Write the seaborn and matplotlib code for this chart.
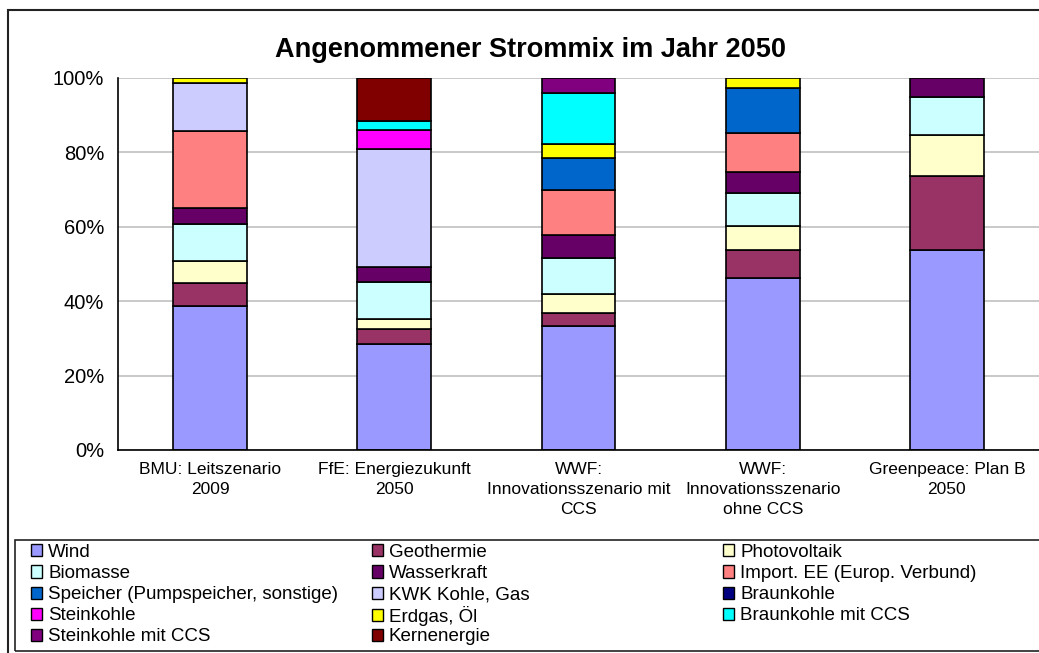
import numpy as np
import matplotlib
matplotlib.use("Agg")
import matplotlib.pyplot as plt
from matplotlib.patches import Patch, Rectangle
from matplotlib.ticker import FixedLocator, PercentFormatter
import seaborn as sns

# scenarios (x axis)
scenarios = ["BMU: Leitszenario\n2009",
             "FfE: Energiezukunft\n2050",
             "WWF:\nInnovationsszenario mit\nCCS",
             "WWF:\nInnovationsszenario\nohne CCS",
             "Greenpeace: Plan B\n2050"]

# share of each source per scenario, in %
sources = ["Wind", "Geothermie", "Photovoltaik", "Biomasse", "Wasserkraft",
           "Import. EE (Europ. Verbund)", "Speicher (Pumpspeicher, sonstige)",
           "KWK Kohle, Gas", "Braunkohle", "Steinkohle", "Erdgas, Öl",
           "Braunkohle mit CCS", "Steinkohle mit CCS", "Kernenergie"]
wind         = [38.8, 28.4, 33.2, 46.1, 53.8]
geothermie   = [6.0, 4.2, 3.6, 7.7, 19.9]
photovoltaik = [5.9, 2.5, 5.2, 6.3, 11.1]
biomasse     = [10.0, 10.1, 9.7, 9.0, 10.2]
wasserkraft  = [4.3, 4.0, 6.0, 5.6, 5.0]
import_ee    = [20.8, 0.0, 12.1, 10.5, 0.0]
speicher     = [0.0, 0.0, 8.8, 12.1, 0.0]
kwk          = [12.8, 31.7, 0.0, 0.0, 0.0]
braunkohle   = [0.0, 0.0, 0.0, 0.0, 0.0]
steinkohle   = [0.0, 5.2, 0.0, 0.0, 0.0]
erdgas_oel   = [1.3, 0.0, 3.7, 2.7, 0.0]
braun_ccs    = [0.0, 2.2, 13.7, 0.0, 0.0]
stein_ccs    = [0.0, 0.0, 4.0, 0.0, 0.0]
kernenergie  = [0.0, 11.8, 0.0, 0.0, 0.0]

colors = ["#9999FF", "#993366", "#FFFFCC", "#CCFFFF", "#660066",
          "#FF8080", "#0066CC", "#CCCCFF", "#000080", "#FF00FF",
          "#FFFF00", "#00FFFF", "#800080", "#800000"]

series = [wind, geothermie, photovoltaik, biomasse, wasserkraft, import_ee,
          speicher, kwk, braunkohle, steinkohle, erdgas_oel, braun_ccs,
          stein_ccs, kernenergie]

sns.set_style("white")
plt.rcParams['font.family'] = ['Liberation Sans', 'DejaVu Sans']
plt.rcParams['text.color'] = 'black'
plt.rcParams['xtick.color'] = 'black'
plt.rcParams['ytick.color'] = 'black'

fig = plt.figure(figsize=(10.39, 6.53), dpi=100)
ax = fig.add_axes([0.1136, 0.3109, 0.8864, 0.5697])

bottom = np.zeros(len(scenarios))
for name, vals, col in zip(sources, series, colors):
    vals = np.array(vals, dtype=float)
    keep = vals > 0
    if keep.any():
        sns.barplot(x=[s for s, k in zip(scenarios, keep) if k], y=vals[keep],
                    order=scenarios, bottom=bottom[keep], color=col,
                    edgecolor="black", linewidth=1.2, width=0.4,
                    errorbar=None, saturation=1, ax=ax)
    bottom += vals

ax.set_ylim(0, 100)
ax.set_xlim(-0.5, 4.5)
ax.yaxis.set_major_locator(FixedLocator([0, 20, 40, 60, 80, 100]))
ax.yaxis.set_major_formatter(PercentFormatter(decimals=0))
ax.yaxis.grid(True, color="#C0C0C0", linewidth=1.2)
ax.set_axisbelow(True)
ax.set_xlabel("")
ax.set_ylabel("")
for side in ["top", "right"]:
    ax.spines[side].set_visible(False)
for side in ["left", "bottom"]:
    ax.spines[side].set_color("black")
    ax.spines[side].set_linewidth(1.2)
ax.tick_params(axis="y", which="major", direction="out", length=5, width=1,
               color="black", labelsize=14.5, pad=5)
ax.xaxis.set_minor_locator(FixedLocator(np.arange(-0.5, 5.0, 1.0)))
ax.tick_params(axis="x", which="minor", direction="out", length=5, width=1, color="black")
ax.tick_params(axis="x", which="major", length=0, labelsize=12.5, pad=9)
for lab in ax.get_xticklabels():
    lab.set_linespacing(1.4)

fig.text(0.511, 0.924, "Angenommener Strommix im Jahr 2050", ha="center", va="center",
         fontsize=19.5, fontweight="bold")

# outer chart frame and legend frame
fig.patches.append(Rectangle((8 / 1039, -0.1), 2, 1.1 - 10 / 653, transform=fig.transFigure,
                             fill=False, edgecolor="#222222", linewidth=1.5))
fig.patches.append(Rectangle((15 / 1039, 2 / 653), 2, (1 - 540 / 653) - 2 / 653,
                             transform=fig.transFigure, fill=False,
                             edgecolor="#222222", linewidth=1.2, zorder=5))

# legend: 3 columns, filled row by row, one entry each so rows line up
col_x = [27, 368, 719]
row_y = 552.5
row_step = 21.1
for i, (name, col) in enumerate(zip(sources, colors)):
    r, c = divmod(i, 3)
    fig.legend([Patch(facecolor=col, edgecolor="black", linewidth=1)], [name],
               loc="center left",
               bbox_to_anchor=(col_x[c] / 1039, 1 - (row_y + r * row_step) / 653),
               frameon=False, fontsize=13.5, handlelength=0.62, handleheight=0.62,
               handletextpad=0.3, borderaxespad=0, borderpad=0.2)

fig.savefig("out.png", dpi=100)
